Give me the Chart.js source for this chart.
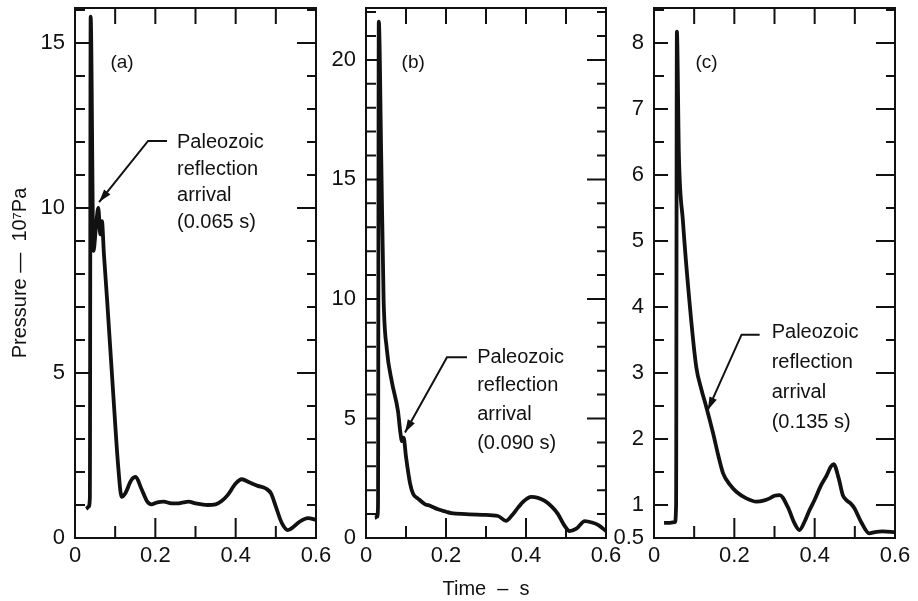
<!DOCTYPE html>
<html>
<head>
<meta charset="utf-8">
<script src="https://cdn.jsdelivr.net/npm/chart.js@4"></script>
<style>
  html, body { margin: 0; padding: 0; background: #fff; }
  #wrap { position: relative; width: 918px; height: 601px; }
  canvas { position: absolute; top: 0; }
</style>
</head>
<body>
<div id="wrap">
  <canvas id="panelA" style="left:0px" width="340" height="601"></canvas>
  <canvas id="panelB" style="left:291px" width="339" height="601"></canvas>
  <canvas id="panelC" style="left:579px" width="339" height="601"></canvas>
</div>
<script>
// tick labels
const xTickLabels = [0, 0.2, 0.4, 0.6];
const yTicksA = [0, 5, 10, 15];
const yTicksB = [0, 5, 10, 15, 20];
const yTicksC = [0.5, 1, 2, 3, 4, 5, 6, 7, 8];

// (a) time in s, pressure in 10^7 Pa
const timeA = [0.028, 0.034, 0.037, 0.039, 0.046, 0.052, 0.058, 0.063, 0.067, 0.072, 0.080, 0.095, 0.108, 0.116, 0.125, 0.140, 0.151, 0.165, 0.180, 0.190, 0.205, 0.221, 0.240, 0.254, 0.270, 0.283, 0.300, 0.330, 0.350, 0.365, 0.380, 0.400, 0.415, 0.435, 0.455, 0.475, 0.488, 0.500, 0.515, 0.530, 0.545, 0.560, 0.580, 0.600];
const pressureA = [0.88, 0.95, 1.2, 15.8, 8.7, 9.4, 10.0, 9.2, 9.6, 8.6, 7.2, 4.4, 2.1, 1.25, 1.35, 1.75, 1.85, 1.5, 1.1, 1.02, 1.08, 1.1, 1.05, 1.05, 1.08, 1.1, 1.05, 1.0, 1.02, 1.12, 1.3, 1.65, 1.78, 1.68, 1.58, 1.5, 1.35, 0.95, 0.45, 0.24, 0.35, 0.5, 0.6, 0.55];

// (b)
const timeB = [0.022, 0.028, 0.030, 0.032, 0.038, 0.044, 0.052, 0.065, 0.080, 0.086, 0.090, 0.094, 0.100, 0.110, 0.118, 0.130, 0.147, 0.160, 0.180, 0.200, 0.213, 0.250, 0.290, 0.330, 0.350, 0.365, 0.380, 0.395, 0.413, 0.430, 0.447, 0.465, 0.480, 0.495, 0.509, 0.526, 0.547, 0.565, 0.580, 0.600];
const pressureB = [0.85, 0.9, 1.3, 21.6, 16.0, 10.0, 7.9, 6.5, 5.3, 4.4, 4.05, 4.2, 3.4, 2.3, 1.84, 1.65, 1.42, 1.35, 1.2, 1.1, 1.04, 1.0, 0.97, 0.92, 0.72, 0.95, 1.27, 1.55, 1.72, 1.68, 1.55, 1.3, 1.0, 0.55, 0.29, 0.39, 0.71, 0.65, 0.55, 0.29];

// (c)
const timeC = [0.025, 0.040, 0.052, 0.055, 0.057, 0.062, 0.072, 0.088, 0.105, 0.118, 0.130, 0.147, 0.160, 0.172, 0.190, 0.205, 0.230, 0.255, 0.275, 0.288, 0.300, 0.313, 0.333, 0.350, 0.362, 0.375, 0.387, 0.400, 0.416, 0.430, 0.440, 0.447, 0.460, 0.470, 0.478, 0.490, 0.499, 0.515, 0.536, 0.550, 0.569, 0.600];
const pressureC = [0.73, 0.73, 0.74, 1.0, 8.17, 6.3, 5.3, 4.1, 3.1, 2.75, 2.49, 2.09, 1.75, 1.48, 1.3, 1.2, 1.1, 1.05, 1.07, 1.1, 1.14, 1.15, 0.97, 0.72, 0.62, 0.75, 0.92, 1.08, 1.3, 1.45, 1.58, 1.62, 1.4, 1.15, 1.08, 1.02, 0.95, 0.75, 0.57, 0.59, 0.6, 0.59];

const FONT = '"Liberation Sans", Arial, Helvetica, sans-serif';
const INK = '#111';

const noteLines = (t) => ['Paleozoic', 'reflection', 'arrival', '(' + t + ' s)'];

// draws the box, inward tick marks and the labels inside each panel
const frameTicks = {
  id: 'frameTicks',
  afterDatasetsDraw(chart, args, opts) {
    const { ctx, chartArea: a, scales: { x, y } } = chart;
    ctx.save();
    ctx.strokeStyle = INK;
    ctx.lineWidth = 2;
    ctx.strokeRect(a.left, a.top, a.right - a.left, a.bottom - a.top);

    ctx.beginPath();
    for (let i = 1; i < 6; i++) {
      const v = i / 10;
      const px = x.getPixelForValue(v);
      const big = xTickLabels.some(t => Math.abs(t - v) < 1e-6);
      ctx.moveTo(px, a.bottom);
      ctx.lineTo(px, a.bottom - (big ? 20 : 12));
      ctx.moveTo(px, a.top);
      ctx.lineTo(px, a.top + 16);
    }
    const step = opts.minorStep;
    for (let i = Math.ceil(y.min / step); i * step <= y.max; i++) {
      const v = i * step;
      if (v <= y.min) continue;
      const py = y.getPixelForValue(v);
      const big = opts.yTicks.some(t => Math.abs(t - v) < 1e-6);
      ctx.moveTo(a.left, py);
      ctx.lineTo(a.left + (big ? 14 : 10), py);
      ctx.moveTo(a.right, py);
      ctx.lineTo(a.right - (big ? 19 : 9), py);
    }
    ctx.stroke();
    ctx.restore();
  },
  afterDraw(chart, args, opts) {
    const { ctx, scales: { x, y } } = chart;
    const n = opts.note;
    ctx.save();
    ctx.fillStyle = INK;
    ctx.strokeStyle = INK;
    ctx.textBaseline = 'middle';
    ctx.textAlign = 'center';
    ctx.font = '19px ' + FONT;
    ctx.fillText(n.tag, x.getPixelForValue(n.tagAt[0]), y.getPixelForValue(n.tagAt[1]));

    ctx.textAlign = 'left';
    ctx.font = '20px ' + FONT;
    const tx = x.getPixelForValue(n.textAt[0]);
    const ty = y.getPixelForValue(n.textAt[1]);
    n.text.forEach((s, i) => ctx.fillText(s, tx, ty + i * n.gap));

    const pts = n.leader.map(p => [x.getPixelForValue(p[0]), y.getPixelForValue(p[1])]);
    ctx.lineWidth = 2;
    ctx.beginPath();
    pts.forEach((p, i) => (i ? ctx.lineTo(p[0], p[1]) : ctx.moveTo(p[0], p[1])));
    ctx.stroke();

    const p1 = pts[pts.length - 2], p2 = pts[pts.length - 1];
    const ang = Math.atan2(p2[1] - p1[1], p2[0] - p1[0]);
    const c = Math.cos(ang), s = Math.sin(ang);
    ctx.beginPath();
    ctx.moveTo(p2[0], p2[1]);
    ctx.lineTo(p2[0] - 13 * c + 4 * s, p2[1] - 13 * s - 4 * c);
    ctx.lineTo(p2[0] - 13 * c - 4 * s, p2[1] - 13 * s + 4 * c);
    ctx.closePath();
    ctx.fill();
    ctx.restore();
  }
};

function makePanel(id, times, pressures, yTicks, yMin, yMax, minorStep, note, yTitle, xTitle) {
  const tickFont = { family: FONT, size: 22 };
  return new Chart(document.getElementById(id), {
    type: 'scatter',
    data: {
      datasets: [{
        data: times.map((t, i) => ({ x: t, y: pressures[i] })),
        showLine: true,
        borderColor: INK,
        borderWidth: 3.8,
        pointRadius: 0,
        cubicInterpolationMode: 'monotone'
      }]
    },
    options: {
      responsive: false,
      animation: false,
      layout: { padding: { top: 8, right: id === 'panelC' ? 23 : 24, left: 0, bottom: 0 } },
      plugins: {
        legend: { display: false },
        tooltip: { enabled: false },
        frameTicks: { note: note, yTicks: yTicks, minorStep: minorStep }
      },
      scales: {
        x: {
          type: 'linear',
          min: 0,
          max: 0.6,
          afterBuildTicks: s => { s.ticks = xTickLabels.map(v => ({ value: v })); },
          afterFit: s => { s.height = 63; s.paddingLeft = 0; s.paddingRight = 0; },
          grid: { display: false, drawTicks: false },
          border: { display: false },
          ticks: { color: INK, font: tickFont, padding: 5, maxRotation: 0, autoSkip: false,
                   callback: v => String(v) },
          title: xTitle ? { display: true, text: xTitle, color: INK,
                            font: { family: FONT, size: 20 }, padding: { top: 0, bottom: 0 } }
                        : { display: false }
        },
        y: {
          type: 'linear',
          min: yMin,
          max: yMax,
          afterBuildTicks: s => { s.ticks = yTicks.map(v => ({ value: v })); },
          afterFit: s => { s.width = 75; s.paddingTop = 0; s.paddingBottom = 0; },
          grid: { display: false, drawTicks: false },
          border: { display: false },
          ticks: { color: INK, font: tickFont, padding: 10, autoSkip: false,
                   callback: v => String(v) },
          title: yTitle ? { display: true, text: yTitle, color: INK,
                            font: { family: FONT, size: 20 }, padding: { top: 8, bottom: 0 } }
                        : { display: false }
        }
      }
    },
    plugins: [frameTicks]
  });
}

makePanel('panelA', timeA, pressureA, yTicksA, 0, 16.06, 1, {
  tag: '(a)', tagAt: [0.117, 14.4],
  text: noteLines('0.065'), textAt: [0.254, 11.97], gap: 26.5,
  leader: [[0.229, 12.03], [0.182, 12.03], [0.060, 10.18]]
}, 'Pressure —  10\u2077Pa', null);

makePanel('panelB', timeB, pressureB, yTicksB, 0, 22.17, 1, {
  tag: '(b)', tagAt: [0.118, 19.9],
  text: noteLines('0.090'), textAt: [0.278, 7.56], gap: 28.7,
  leader: [[0.2525, 7.56], [0.2025, 7.56], [0.0975, 4.41]]
}, null, 'Time  \u2013  s');

makePanel('panelC', timeC, pressureC, yTicksC, 0.5, 8.53, 0.5, {
  tag: '(c)', tagAt: [0.131, 7.7],
  text: noteLines('0.135'), textAt: [0.293, 3.61], gap: 30,
  leader: [[0.263, 3.58], [0.218, 3.58], [0.134, 2.44]]
}, null, null);
</script>
</body>
</html>
